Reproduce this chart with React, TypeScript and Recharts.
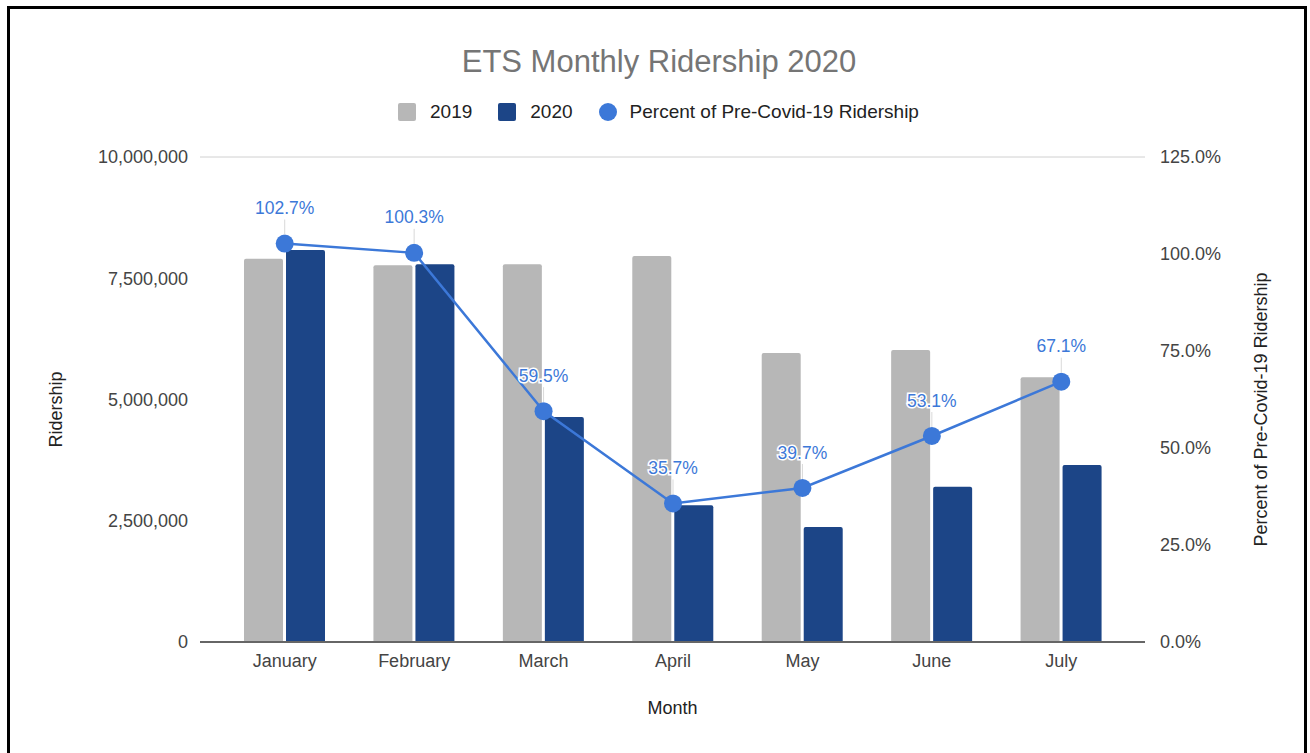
import React from 'react';
import {
  ComposedChart,
  Bar,
  Line,
  XAxis,
  YAxis,
  CartesianGrid,
  LabelList,
  Label
} from 'recharts';

const months = ['January', 'February', 'March', 'April', 'May', 'June', 'July'];
const riders2019 = [7900000, 7770000, 7790000, 7960000, 5960000, 6020000, 5460000];
const riders2020 = [8080000, 7790000, 4640000, 2820000, 2370000, 3200000, 3650000];
const percentPreCovid = [102.7, 100.3, 59.5, 35.7, 39.7, 53.1, 67.1];

const leftTicks = [0, 2500000, 5000000, 7500000, 10000000];
const rightTicks = [0, 25, 50, 75, 100, 125];

const data = months.map((m, i) => ({
  month: m,
  y2019: riders2019[i],
  y2020: riders2020[i],
  pct: percentPreCovid[i]
}));

const FONT = '"Liberation Sans", Arial, sans-serif';
const GRAY = '#b7b7b7';
const NAVY = '#1c4587';
const BLUE = '#3c78d8';

const PointLabel = (props: any) => {
  const { x, y, value } = props;
  return (
    <g>
      <line x1={x} y1={y - 9} x2={x} y2={y - 24} stroke="#d9d9d9" strokeWidth={1} />
      <text
        x={x}
        y={y - 34}
        textAnchor="middle"
        dominantBaseline="middle"
        fontFamily={FONT}
        fontSize={17.5}
        fill={BLUE}
        stroke="#fff"
        strokeWidth={3}
        paintOrder="stroke"
      >
        {Number(value).toFixed(1)}%
      </text>
    </g>
  );
};

// axis titles drawn relative to the axis box
const VerticalTitle = ({ viewBox, text, dx }: any) => {
  const cx = viewBox.x + dx;
  const cy = viewBox.y + viewBox.height / 2 + 10;
  return (
    <text
      x={cx}
      y={cy}
      transform={`rotate(-90 ${cx} ${cy})`}
      textAnchor="middle"
      dominantBaseline="middle"
      fontFamily={FONT}
      fontSize={18}
      fill="#222"
    >
      {text}
    </text>
  );
};

const LegendSwatch = ({ color, round }: { color: string; round?: boolean }) => (
  <span
    style={{
      display: 'inline-block',
      width: 18,
      height: 18,
      background: color,
      borderRadius: round ? '50%' : 2
    }}
  />
);

export default function App() {
  return (
    <div style={{ fontFamily: FONT }}>
      <div
        style={{
          position: 'absolute',
          left: 7,
          top: 6,
          width: 1300,
          height: 747,
          border: '3px solid #000',
          borderBottom: 'none',
          boxSizing: 'border-box'
        }}
      />
      <div
        style={{
          position: 'absolute',
          left: 0,
          top: 44,
          width: 1318,
          textAlign: 'center',
          fontSize: 31,
          lineHeight: '36px',
          color: '#757575'
        }}
      >
        ETS Monthly Ridership 2020
      </div>
      <div
        style={{
          position: 'absolute',
          left: 398,
          top: 101,
          height: 22,
          display: 'flex',
          alignItems: 'center',
          fontSize: 19,
          color: '#222',
          zIndex: 2
        }}
      >
        <LegendSwatch color={GRAY} />
        <span style={{ marginLeft: 14, marginRight: 26 }}>2019</span>
        <LegendSwatch color={NAVY} />
        <span style={{ marginLeft: 14, marginRight: 26 }}>2020</span>
        <LegendSwatch color={BLUE} round />
        <span style={{ marginLeft: 13 }}>Percent of Pre-Covid-19 Ridership</span>
      </div>
      <div style={{ position: 'absolute', left: 0, top: 0 }}>
        <ComposedChart
          width={1310}
          height={753}
          data={data}
          margin={{ top: 157, right: 35, bottom: 71, left: 30 }}
          barSize={39}
          barGap={3}
        >
          <CartesianGrid vertical={false} stroke="#d0d0d0" />
          <XAxis
            dataKey="month"
            padding={{ left: 20, right: 19 }}
            height={40}
            tickLine={false}
            tickSize={6}
            tickMargin={6}
            axisLine={{ stroke: '#666', strokeWidth: 2 }}
            tick={{ fill: '#444', fontSize: 18, fontFamily: FONT }}
          >
            <Label
              content={(p: any) => (
                <text
                  x={p.viewBox.x + p.viewBox.width / 2}
                  y={709}
                  textAnchor="middle"
                  dominantBaseline="middle"
                  fontFamily={FONT}
                  fontSize={18}
                  fill="#222"
                >
                  Month
                </text>
              )}
            />
          </XAxis>
          <YAxis
            yAxisId="left"
            width={170}
            domain={[0, 10000000]}
            ticks={leftTicks}
            tickLine={false}
            axisLine={false}
            tickSize={6}
            tickMargin={6}
            tickFormatter={(v: number) => v.toLocaleString('en-US')}
            tick={{ fill: '#444', fontSize: 18, fontFamily: FONT }}
          >
            <Label content={(p: any) => <VerticalTitle viewBox={p.viewBox} text="Ridership" dx={27} />} />
          </YAxis>
          <YAxis
            yAxisId="right"
            orientation="right"
            width={130}
            domain={[0, 125]}
            ticks={rightTicks}
            tickLine={false}
            axisLine={false}
            tickSize={6}
            tickMargin={9}
            tickFormatter={(v: number) => v.toFixed(1) + '%'}
            tick={{ fill: '#444', fontSize: 18, fontFamily: FONT, textAnchor: 'start' }}
          >
            <Label
              content={(p: any) => (
                <VerticalTitle viewBox={p.viewBox} text="Percent of Pre-Covid-19 Ridership" dx={117} />
              )}
            />
          </YAxis>
          <Bar
            yAxisId="left"
            dataKey="y2019"
            name="2019"
            fill={GRAY}
            radius={[2, 2, 0, 0]}
            isAnimationActive={false}
          />
          <Bar
            yAxisId="left"
            dataKey="y2020"
            name="2020"
            fill={NAVY}
            radius={[2, 2, 0, 0]}
            isAnimationActive={false}
          />
          <Line
            yAxisId="right"
            dataKey="pct"
            name="Percent of Pre-Covid-19 Ridership"
            type="linear"
            stroke={BLUE}
            strokeWidth={2.5}
            dot={{ r: 9, fill: BLUE, stroke: 'none' }}
            activeDot={false}
            isAnimationActive={false}
          >
            <LabelList dataKey="pct" content={PointLabel} />
          </Line>
        </ComposedChart>
      </div>
    </div>
  );
}
